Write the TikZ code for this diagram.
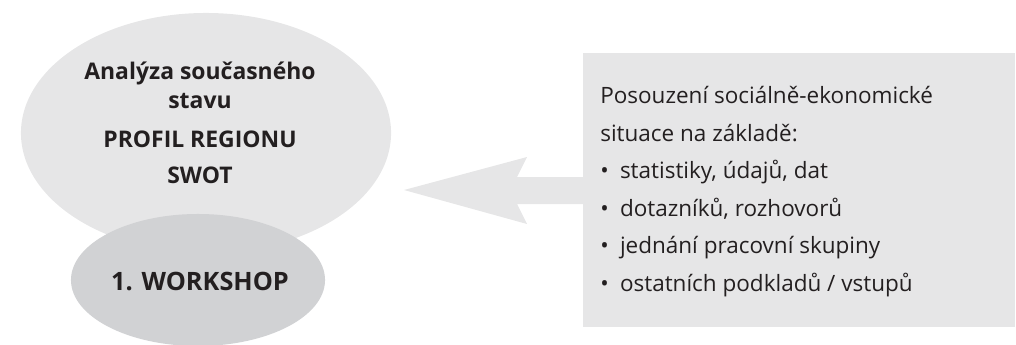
\documentclass[tikz,border=0pt]{standalone}
\usepackage{fontspec}
\setmainfont{Open Sans}
\usetikzlibrary{positioning,shapes.geometric}
\definecolor{lightgrey}{HTML}{E6E6E7}
\definecolor{midgrey}{HTML}{D1D2D4}
\definecolor{inkcol}{HTML}{231F20}

\tikzset{
  blob/.style={ellipse,fill=#1,draw=none,inner sep=0pt},
  heading/.style={font=\bfseries\fontsize{16.3}{20.5}\selectfont,text=inkcol,align=center},
  listtext/.style={font=\fontsize{16}{26.7}\selectfont,text=inkcol,align=left,inner sep=0pt}
}
\newcommand{\itm}{•\enspace}

\begin{document}
\begin{tikzpicture}[x=0.025cm,y=-0.025cm]
  \useasboundingbox (0,0) rectangle (1016,344);
  % analysis of the current state
  \node[blob=lightgrey,minimum width=9.25cm,minimum height=6cm] (region) at (206,133) {};
  \node[heading] (regtext) at (200,123)
    {Analýza současného\\stavu\\[7pt]PROFIL REGIONU\\[5pt]SWOT};
  \node[blob=midgrey,minimum width=6.35cm,minimum height=3.3cm] (workshop) at (198,280) {};
  \node[heading,font=\bfseries\fontsize{18}{22}\selectfont] (worktext) at (200,281) {1. WORKSHOP};

  % source box
  \node[fill=lightgrey,minimum width=10.8cm,minimum height=6.85cm,anchor=north west,inner sep=0pt] (inputs) at (583,53) {};
  \node[listtext,anchor=north west] (inputtext) at (600,86)
    {Posouzení sociálně-ekonomické\\
     situace na základě:\\
     \itm statistiky, údajů, dat\\
     \itm dotazníků, rozhovorů\\
     \itm jednání pracovní skupiny\\
     \itm ostatních podkladů / vstupů};

  % fat arrow from the box towards the ellipse
  \coordinate (tip) at (404,190);
  \fill[lightgrey] (tip) -- (527,157) -- (517,177) -- (inputs.west |- 0,177)
    -- (inputs.west |- 0,204) -- (517,204) -- (527,224) -- cycle;
\end{tikzpicture}
\end{document}
